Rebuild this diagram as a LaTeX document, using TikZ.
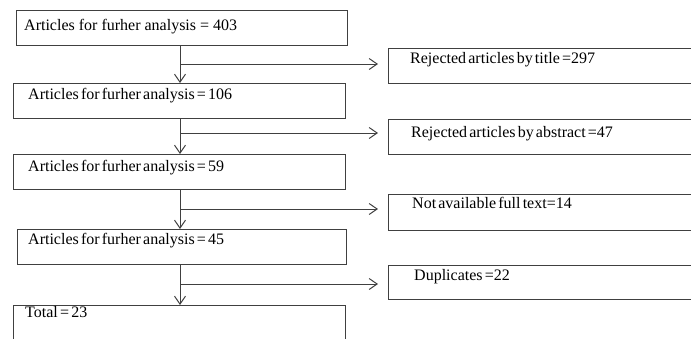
\documentclass[tikz,border=0pt]{standalone}
\usepackage{fontspec}
\setmainfont{Liberation Serif}
\usetikzlibrary{arrows.meta,calc}
\definecolor{linegray}{HTML}{404040}
\begin{document}
\begin{tikzpicture}[x=1pt,y=-1pt,
  box/.style={draw=linegray, line width=1pt, inner sep=0pt, anchor=north west},
  lbl/.style={anchor=base west, inner sep=0pt, font=\fontsize{16}{19}\selectfont},
  tight/.style={execute at begin node={\spaceskip=2.2pt plus 1pt\relax}},
  arr/.style={draw=linegray, line width=1pt, -{Straight Barb[length=8pt,width=11pt]}}]
\path[use as bounding box] (0,0) rectangle (691,338);
\clip (0,0) rectangle (691,338);
% left column boxes
\node[box, minimum width=331pt, minimum height=35pt] (b1) at (16,10) {};
\node[box, minimum width=332pt, minimum height=35pt] (b2) at (13,83) {};
\node[box, minimum width=332pt, minimum height=35pt] (b3) at (13,154) {};
\node[box, minimum width=329pt, minimum height=35pt] (b4) at (17,229) {};
\node[box, minimum width=332pt, minimum height=45pt] (b5) at (13,305) {};
% right column boxes
\node[box, minimum width=320pt, minimum height=35pt] (r1) at (388,48) {};
\node[box, minimum width=320pt, minimum height=35pt] (r2) at (388,119) {};
\node[box, minimum width=320pt, minimum height=36pt] (r3) at (388,194) {};
\node[box, minimum width=320pt, minimum height=34pt] (r4) at (388,265) {};
% texts
\node[lbl] (t1) at (24,30.5) {Articles for furher analysis = 403};
\node[lbl,tight] (t2) at (28,99.5) {Articles for furher analysis = 106};
\node[lbl,tight] (t3) at (28,171) {Articles for furher analysis = 59};
\node[lbl,tight] (t4) at (28,244.5) {Articles for furher analysis = 45};
\node[lbl,tight] (t5) at (25,317) {Total = 23};
\node[lbl,tight] (s1) at (410,63.5) {Rejected articles by title =297};
\node[lbl,tight] (s2) at (411,137) {Rejected articles by abstract =47};
\node[lbl,tight] (s3) at (412,208) {Not available full text=14};
\node[lbl,tight] (s4) at (414,280) {Duplicates =22};
% spine and junctions
\coordinate (v) at (180,0);
\coordinate (j1) at (180,64);
\coordinate (j2) at (180,133);
\coordinate (j3) at (180,209);
\coordinate (j4) at (180,284);
% vertical connectors
\draw[arr] (b1.south -| v) -- (b2.north -| v);
\draw[arr] (b2.south -| v) -- (b3.north -| v);
\draw[arr] (b3.south -| v) -- (b4.north -| v);
\draw[arr] (b4.south -| v) -- (b5.north -| v);
% side connectors
\draw[arr] (j1) -- ($(j1 -| r1.west)+(-10,0)$);
\draw[arr] (j2) -- ($(j2 -| r2.west)+(-10,0)$);
\draw[arr] (j3) -- ($(j3 -| r3.west)+(-10,0)$);
\draw[arr] (j4) -- ($(j4 -| r4.west)+(-10,0)$);
\end{tikzpicture}
\end{document}
